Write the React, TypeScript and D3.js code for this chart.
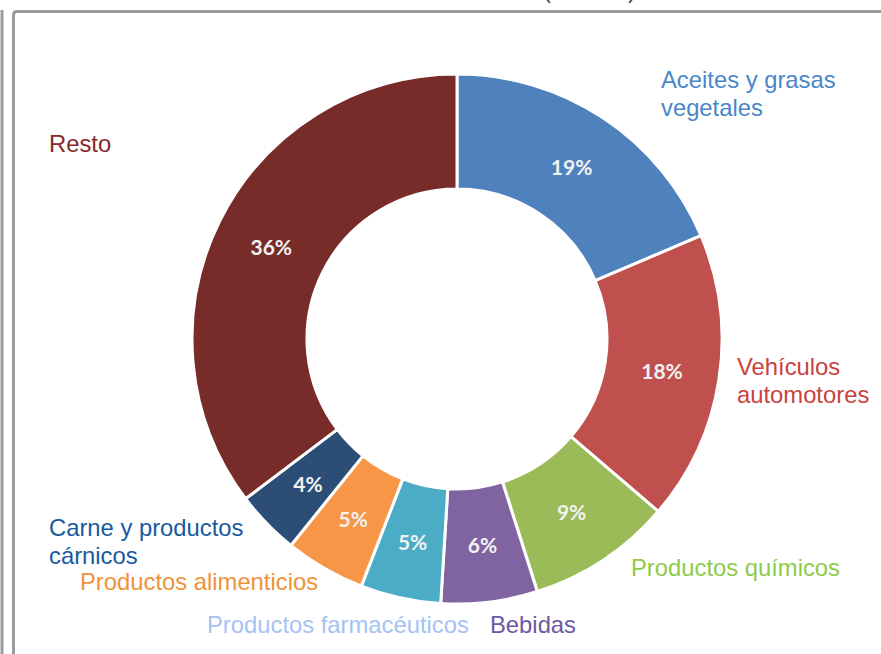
import React from "react";
import * as d3 from "d3";

// ---- data ----
const categories = [
  "Aceites y grasas vegetales",
  "Vehículos automotores",
  "Productos químicos",
  "Bebidas",
  "Productos farmacéuticos",
  "Productos alimenticios",
  "Carne y productos cárnicos",
  "Resto",
];
const values = [19, 18, 9, 6, 5, 5, 4, 36];
const labelLines = [
  ["Aceites y grasas", "vegetales"],
  ["Vehículos", "automotores"],
  ["Productos químicos"],
  ["Bebidas"],
  ["Productos farmacéuticos"],
  ["Productos alimenticios"],
  ["Carne y productos", "cárnicos"],
  ["Resto"],
];

// ---- styles / layout ----
const sliceColors = ["#4F81BD", "#C0504D", "#9BBB59", "#8064A2", "#4BACC6", "#F79646", "#2C4D75", "#772C2A"];
const labelColors = ["#4A86C8", "#C8423F", "#8DCB4A", "#6D58A2", "#A4C2F4", "#EF9138", "#185A9D", "#852A28"];
const labelPos: [number, number][] = [
  [661, 88],
  [737, 375],
  [631, 576],
  [490, 633],
  [207, 633],
  [80, 590],
  [49, 536],
  [49, 152],
];
const W = 881, H = 654;
const cx = 457, cy = 339, rOuter = 265, rInner = 150;
const lineH = 28;

export default function App() {
  const pie = d3.pie<number>().value((d) => d).sort(null);
  const arcs = pie(values);
  const arc = d3.arc<d3.PieArcDatum<number>>().innerRadius(rInner).outerRadius(rOuter);

  return (
    <svg width={W} height={H} style={{ position: "absolute", left: 0, top: 0, display: "block" }}>
      <rect x={0} y={0} width={W} height={H} fill="#fff" />
      {/* frame */}
      <line x1={2} y1={10} x2={2} y2={H} stroke="#9a9a9a" strokeWidth={3} />
      <path d={`M13.5,${H} V15 Q13.5,11.5 17,11.5 H${W}`} fill="none" stroke="#9a9a9a" strokeWidth={3} />
      {/* cut-off title tails */}
      <text x={543} y={-2} fontFamily="Liberation Sans, Arial, sans-serif" fontSize={24} fill="#444">(</text>
      <text x={628} y={-2} fontFamily="Liberation Sans, Arial, sans-serif" fontSize={24} fill="#444">)</text>
      <g transform={`translate(${cx},${cy})`}>
        {arcs.map((a, i) => (
          <path key={categories[i]} d={arc(a) || ""} fill={sliceColors[i]} stroke="#fff" strokeWidth={3} strokeLinejoin="round" />
        ))}
        {arcs.map((a, i) => {
          const [x, y] = arc.centroid(a);
          return (
            <text
              key={"p" + i}
              x={x}
              y={y}
              textAnchor="middle"
              dominantBaseline="central"
              fontFamily="Lato, 'Open Sans', sans-serif"
              fontSize={21}
              fontWeight={700}
              fill="#f2f2f2"
            >
              {values[i]}%
            </text>
          );
        })}
      </g>
      {labelLines.map((lines, i) => (
        <text
          key={"l" + i}
          x={labelPos[i][0]}
          y={labelPos[i][1]}
          fontFamily="'Liberation Sans', Arial, sans-serif"
          fontSize={23.8}
          fill={labelColors[i]}
        >
          {lines.map((ln, j) => (
            <tspan key={j} x={labelPos[i][0]} dy={j === 0 ? 0 : lineH}>
              {ln}
            </tspan>
          ))}
        </text>
      ))}
    </svg>
  );
}
